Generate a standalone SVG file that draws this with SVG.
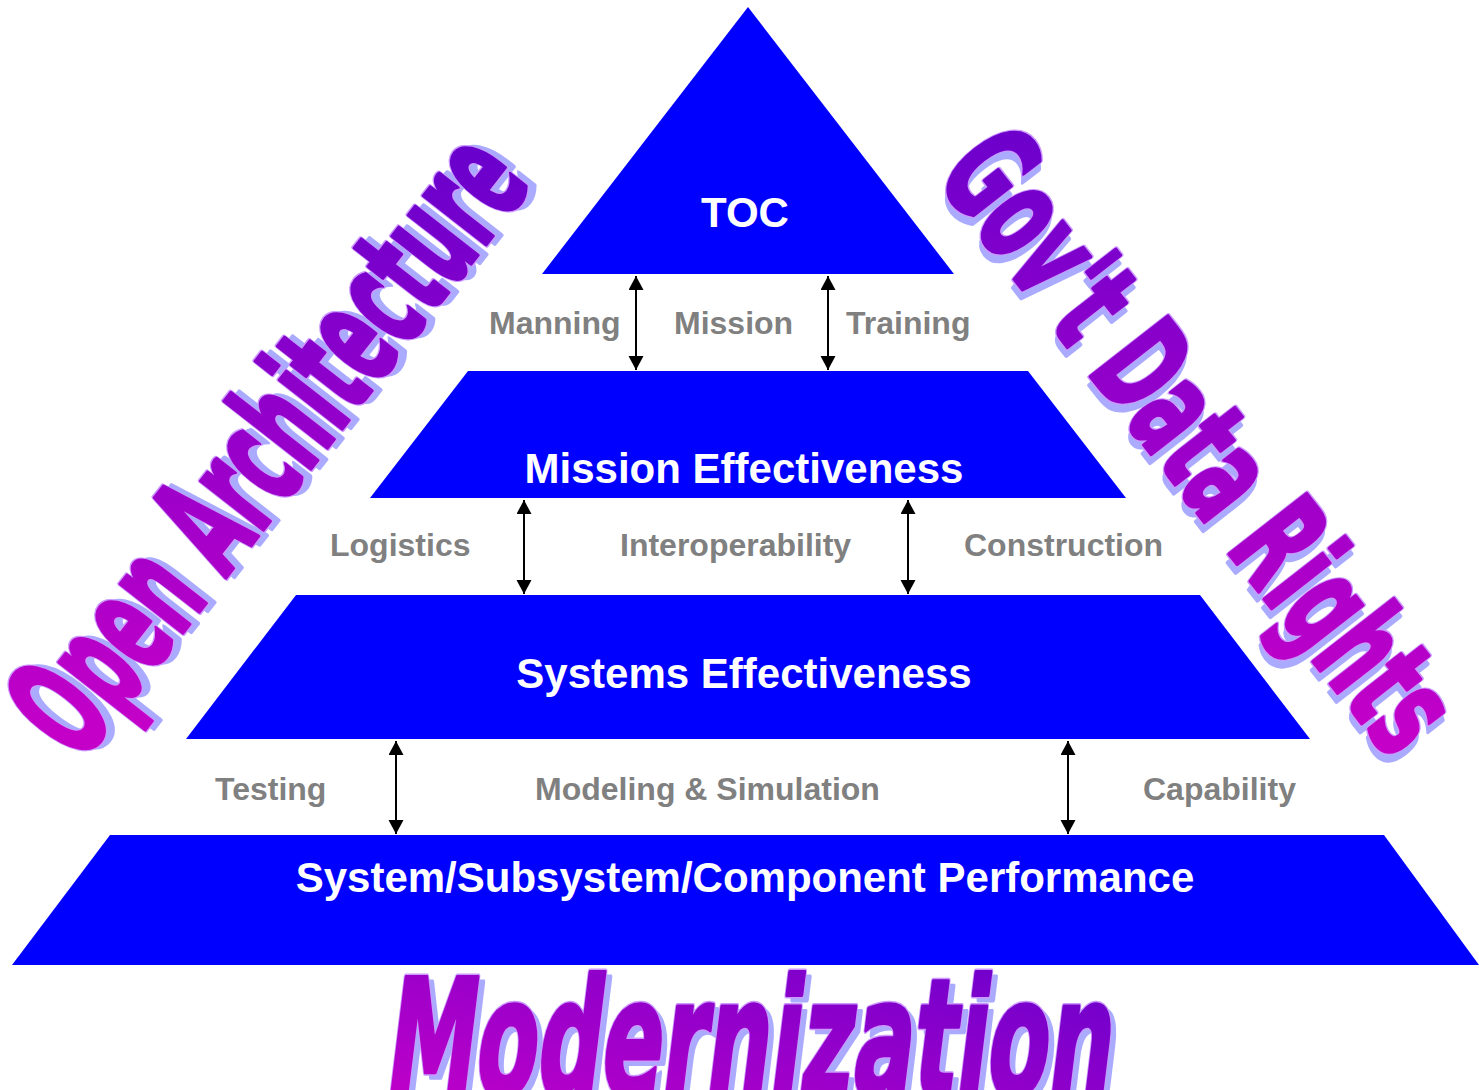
<svg xmlns="http://www.w3.org/2000/svg" width="1479" height="1090" viewBox="0 0 1479 1090">
<style>
.shape{fill:#0000FF;stroke:none}
.title{font-family:"Liberation Sans",Arial,sans-serif;font-weight:bold;font-size:42px;fill:#FFFFFF;text-anchor:middle}
.lbl{font-family:"Liberation Sans",Arial,sans-serif;font-weight:bold;font-size:32px;fill:#808080}
.arr{stroke:#000000;stroke-width:2;fill:none;marker-start:url(#head);marker-end:url(#head)}
.wa{font-family:"DejaVu Sans","Liberation Sans",sans-serif;font-weight:bold}
.sh{fill:#AAAAFF;stroke:#AAAAFF;stroke-width:5;stroke-linejoin:round}
.ol{fill:#CC99FF;stroke:#CC99FF;stroke-width:7;stroke-linejoin:round}
</style>
<defs>
<marker id="head" markerUnits="userSpaceOnUse" markerWidth="16" markerHeight="16" refX="14" refY="7.5" orient="auto-start-reverse">
<path d="M0,0 L14,7.5 L0,15 Z" fill="#000000"/>
</marker>
<linearGradient id="gMod" x1="0" y1="1" x2="1" y2="0">
<stop offset="0" stop-color="#C800C8"/>
<stop offset="1" stop-color="#6400CC"/>
</linearGradient>
<linearGradient id="gOA" x1="0" y1="0.5" x2="1" y2="0.3">
<stop offset="0" stop-color="#C400C8"/>
<stop offset="1" stop-color="#6600CC"/>
</linearGradient>
<linearGradient id="gGov" x1="0" y1="0.4" x2="1" y2="0.6">
<stop offset="0" stop-color="#6E00CC"/>
<stop offset="1" stop-color="#C400C8"/>
</linearGradient>
</defs>
<rect width="1479" height="1090" fill="#FFFFFF"/>

<g id="toc">
<polygon class="shape" points="748,7 954,274 542,274"/>
<text class="title" x="745" y="227">TOC</text>
</g>
<g id="mission-effectiveness">
<polygon class="shape" points="468,371 1028,371 1126,498 370,498"/>
<text class="title" x="744" y="483">Mission Effectiveness</text>
</g>
<g id="systems-effectiveness">
<polygon class="shape" points="296,595 1200,595 1310,739 186,739"/>
<text class="title" x="744" y="688">Systems Effectiveness</text>
</g>
<g id="component-performance">
<polygon class="shape" points="110,835 1384,835 1479,965 12,965"/>
<text class="title" x="745" y="892">System/Subsystem/Component Performance</text>
</g>

<g id="connectors">
<line class="arr" x1="636" y1="276" x2="636" y2="370"/>
<line class="arr" x1="828" y1="276" x2="828" y2="370"/>
<line class="arr" x1="524" y1="500" x2="524" y2="594"/>
<line class="arr" x1="908" y1="500" x2="908" y2="594"/>
<line class="arr" x1="396" y1="741" x2="396" y2="834"/>
<line class="arr" x1="1068" y1="741" x2="1068" y2="834"/>
</g>

<g id="labels">
<text class="lbl" x="489" y="334">Manning</text>
<text class="lbl" x="674" y="334">Mission</text>
<text class="lbl" x="846" y="334">Training</text>
<text class="lbl" x="330" y="556">Logistics</text>
<text class="lbl" x="620" y="556">Interoperability</text>
<text class="lbl" x="964" y="556">Construction</text>
<text class="lbl" x="215" y="800">Testing</text>
<text class="lbl" x="535" y="800">Modeling &amp; Simulation</text>
<text class="lbl" x="1143" y="800">Capability</text>
</g>

<g id="open-architecture" transform="translate(80,764) rotate(-52)">
<text class="wa sh" x="6" y="6" font-size="144" textLength="736" lengthAdjust="spacingAndGlyphs">Open Architecture</text>
<text class="wa ol" x="0" y="0" font-size="144" textLength="736" lengthAdjust="spacingAndGlyphs">Open Architecture</text>
<text class="wa" x="0" y="0" font-size="144" textLength="736" lengthAdjust="spacingAndGlyphs" fill="url(#gOA)" stroke="url(#gOA)" stroke-width="4" stroke-linejoin="round">Open Architecture</text>
</g>

<g id="govt-data-rights" transform="translate(934,176) rotate(52)">
<text class="wa sh" x="6" y="6" font-size="134" textLength="743" lengthAdjust="spacingAndGlyphs">Gov't Data Rights</text>
<text class="wa ol" x="0" y="0" font-size="134" textLength="743" lengthAdjust="spacingAndGlyphs">Gov't Data Rights</text>
<text class="wa" x="0" y="0" font-size="134" textLength="743" lengthAdjust="spacingAndGlyphs" fill="url(#gGov)" stroke="url(#gGov)" stroke-width="4" stroke-linejoin="round">Gov't Data Rights</text>
</g>

<g id="modernization" transform="translate(0,1095) skewX(-7)">
<text class="wa sh" x="389" y="5" font-size="162" textLength="726" lengthAdjust="spacingAndGlyphs">Modernization</text>
<text class="wa ol" x="383" y="0" font-size="162" textLength="726" lengthAdjust="spacingAndGlyphs">Modernization</text>
<text class="wa" x="383" y="0" font-size="162" textLength="726" lengthAdjust="spacingAndGlyphs" fill="url(#gMod)" stroke="url(#gMod)" stroke-width="4" stroke-linejoin="round">Modernization</text>
</g>
</svg>
